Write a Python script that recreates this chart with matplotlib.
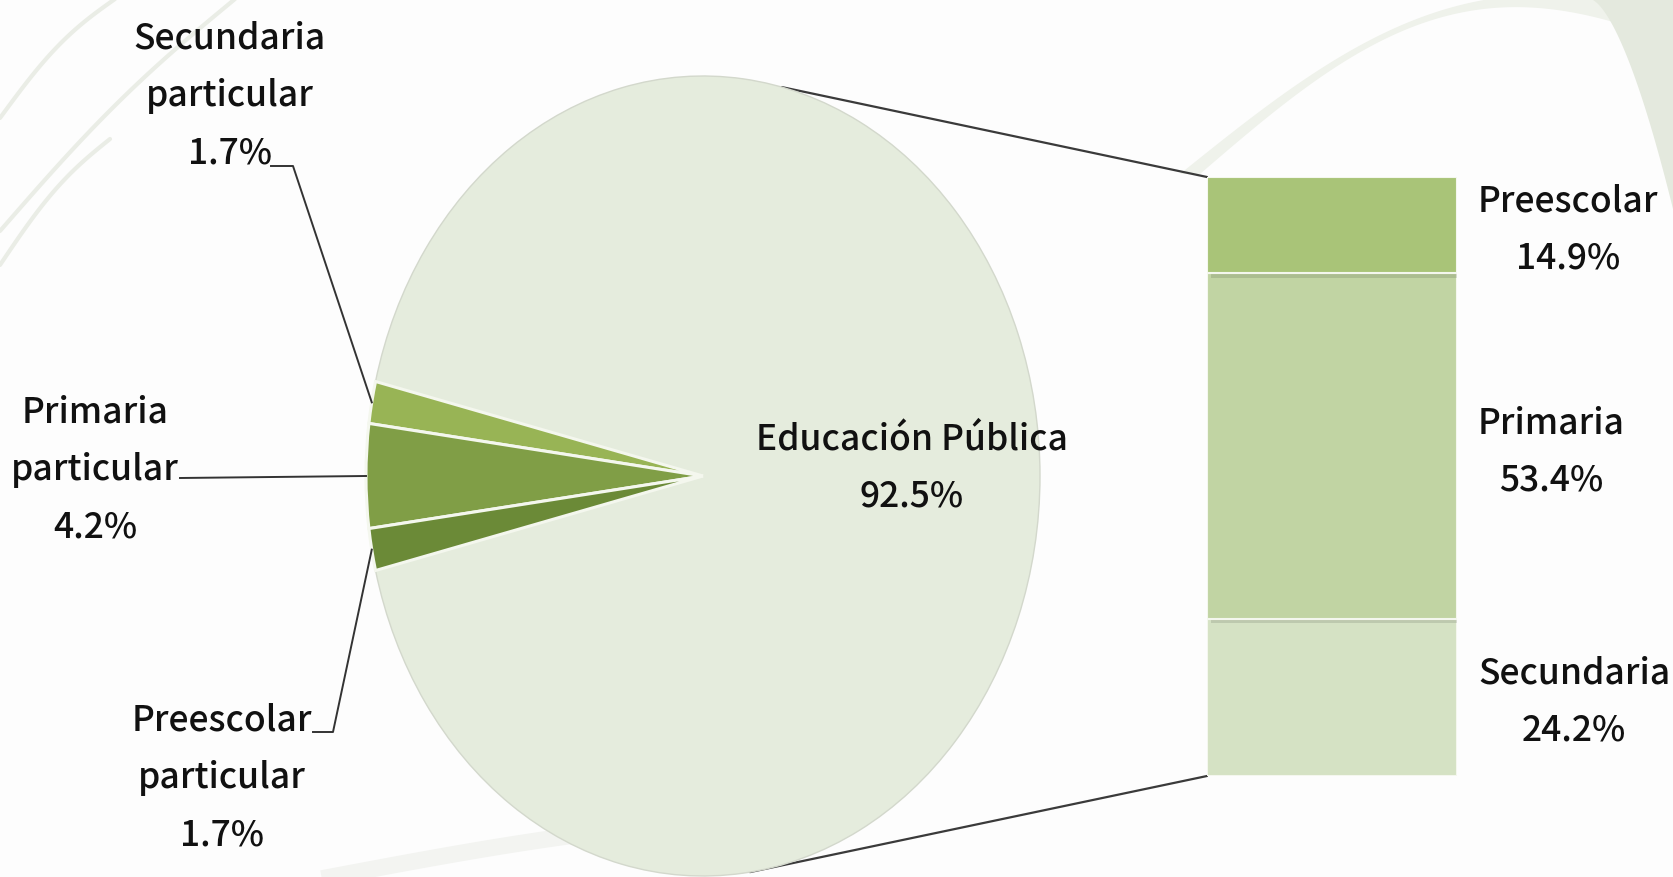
import numpy as np
import matplotlib.pyplot as plt
from matplotlib.patches import ConnectionPatch
from matplotlib import patheffects

W, H = 1673, 878

# Datos del grafico
pie_labels = ["Secundaria\nparticular", "Primaria\nparticular", "Preescolar\nparticular", "Educación Pública"]
pie_values = [1.7, 4.2, 1.7, 92.5]
pie_colors = ["#98b455", "#809e46", "#6b8a37", "#e5ecdd"]

bar_labels = ["Preescolar", "Primaria", "Secundaria"]
bar_values = [14.9, 53.4, 24.2]
bar_colors = ["#a9c478", "#c1d4a3", "#d5e2c4"]

plt.rcParams['font.family'] = ['Noto Sans CJK JP', 'DejaVu Sans']
plt.rcParams['font.weight'] = 'medium'
FS = 25.5
LS = 1.77

fig = plt.figure(figsize=(W / 100, H / 100), dpi=100)
fig.patch.set_facecolor("#fdfdfd")

# fondo decorativo
bg = fig.add_axes([0, 0, 1, 1], zorder=0)
bg.set_xlim(0, W)
bg.set_ylim(H, 0)
bg.axis("off")
for (x0, y0, x1, y1) in [(0, 119, 115, 0), (0, 232, 235, 0), (0, 266, 110, 140)]:
    t = np.linspace(0, 1, 50)
    xs = x0 + (x1 - x0) * t
    ys = y0 + (y1 - y0) * t - 12 * np.sin(np.pi * t)
    bg.plot(xs, ys, color="#eaede6", lw=3, solid_capstyle="round")
t = np.linspace(0, 1, 100)
xa = 1180 + 420 * t
ya = 175 - 175 * np.sin(np.pi / 2 * t) - 20 * np.sin(np.pi * t)
xb = 1200 + 420 * t
yb = 175 - 150 * np.sin(np.pi / 2 * t) - 40 * np.sin(np.pi * t)
bg.fill(np.r_[xa, xb[::-1]], np.r_[ya, yb[::-1]], color="#eff2eb", lw=0)
xc = 1590 + 83 * t
yc = 210 * t ** 1.6
bg.fill(np.r_[xc, [W, W]], np.r_[yc, [210, 0]], color="#e4e9de", lw=0)
xd = 330 + 500 * t
yd = 878 - 60 * np.sin(np.pi / 2 * t)
bg.plot(xd, yd, color="#f3f4f1", lw=12)

# pastel (eliptico)
pie_ax = fig.add_axes([366 / W, (H - 877) / H, 674 / W, 800 / H], zorder=1)
small = sum(pie_values[:3])
start = 180 - small / sum(pie_values) * 180
wedges, _ = pie_ax.pie(pie_values, colors=pie_colors, startangle=start, counterclock=True,
                       radius=1, wedgeprops=dict(edgecolor="#f4f7ee", linewidth=2.2))
wedges[3].set_edgecolor("#d3d8cc")
wedges[3].set_linewidth(1)
wedges[3].set_zorder(0)
for w in wedges:
    w.set_clip_on(False)
pie_ax.set_aspect("auto")
pie_ax.set_xlim(-1, 1)
pie_ax.set_ylim(-1, 1)
pie_ax.axis("off")

# barra
bar_ax = fig.add_axes([1207 / W, (H - 777) / H, 250 / W, 599 / H], zorder=2)
bottom = 0
for lab, val, col in list(zip(bar_labels, bar_values, bar_colors))[::-1]:
    bar_ax.bar(0, val, bottom=bottom, width=1, color=col, edgecolor="#f4f7ee", linewidth=1.5,
               path_effects=[patheffects.SimplePatchShadow(offset=(3, -3), alpha=0.15), patheffects.Normal()])
    bottom += val
bar_ax.set_xlim(-0.5, 0.5)
bar_ax.set_ylim(0, sum(bar_values))
bar_ax.axis("off")

# capa superior para textos y lineas
top = fig.add_axes([0, 0, 1, 1], zorder=3)
top.set_xlim(0, W)
top.set_ylim(H, 0)
top.axis("off")
top.patch.set_alpha(0)


def pie_to_top(ang_deg, r=1.0):
    a = np.deg2rad(ang_deg)
    p = pie_ax.transData.transform((r * np.cos(a), r * np.sin(a)))
    return top.transData.inverted().transform(p)


# lineas de union pastel -> barra
for ang, yb_ in [(76.5, sum(bar_values)), (-82, 0)]:
    con = ConnectionPatch(xyA=(np.cos(np.deg2rad(ang)), np.sin(np.deg2rad(ang))), coordsA=pie_ax.transData,
                          xyB=(-0.5, yb_), coordsB=bar_ax.transData, color="#3a3a3a", lw=1.6)
    fig.add_artist(con)

# etiquetas del pastel
cum = np.cumsum([0] + pie_values)
total = sum(pie_values)
mids = [start + (cum[i] + cum[i + 1]) / 2 / total * 360 for i in range(len(pie_values))]

label_pos = [(230, 96), (95, 470), (222, 778)]
leader_pts = [[(271, 167), (293, 167)], [(180, 479)], [(313, 733), (333, 733)]]
for i in range(3):
    txt = f"{pie_labels[i]}\n{pie_values[i]:.1f}%"
    top.text(label_pos[i][0], label_pos[i][1], txt, ha="center", va="center", ma="center",
             fontsize=FS, color="#111111", linespacing=LS)
    end = pie_to_top(mids[i])
    pts = np.array(leader_pts[i] + [tuple(end)])
    top.plot(pts[:, 0], pts[:, 1], color="#333333", lw=1.4)

top.text(912, 468, f"{pie_labels[3]}\n{pie_values[3]:.1f}%", ha="center", va="center", ma="center",
         fontsize=FS, color="#111111", linespacing=LS)

# etiquetas de la barra
bar_label_y = [230, 452, 702]
for lab, val, y in zip(bar_labels, bar_values, bar_label_y):
    top.text(1478, y, f"{lab}\n{val:.1f}%", ha="left", va="center", ma="center",
             fontsize=FS, color="#111111", linespacing=LS)

fig.savefig("out.png", dpi=100, facecolor=fig.get_facecolor())
